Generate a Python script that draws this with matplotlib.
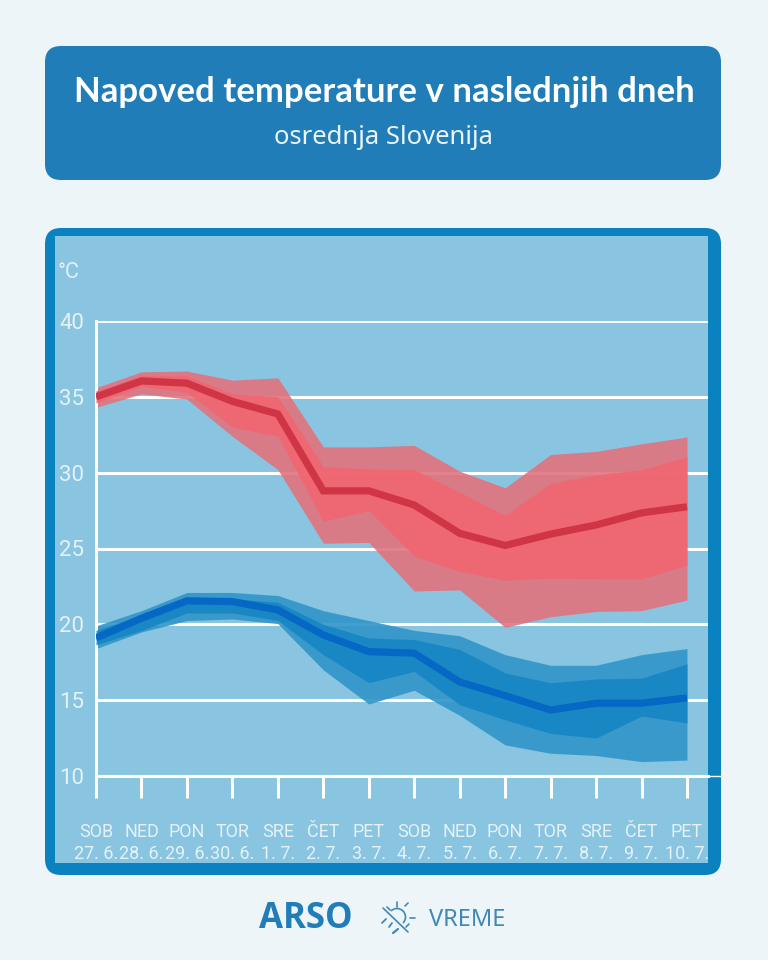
import matplotlib
matplotlib.use("Agg")
import matplotlib.pyplot as plt
from matplotlib.patches import FancyBboxPatch, Rectangle, Arc

# ============================== DATA ==============================
days = ["SOB", "NED", "PON", "TOR", "SRE", "ČET", "PET",
        "SOB", "NED", "PON", "TOR", "SRE", "ČET", "PET"]
dates = ["27. 6.", "28. 6.", "29. 6.", "30. 6.", "1. 7.", "2. 7.", "3. 7.",
         "4. 7.", "5. 7.", "6. 7.", "7. 7.", "8. 7.", "9. 7.", "10. 7."]
y_ticks = [10, 15, 20, 25, 30, 35, 40]

tmax_outer_hi = [35.6, 36.65, 36.7, 36.1, 36.25, 31.7, 31.7, 31.8, 30.1, 29.0, 31.2, 31.4, 31.9, 32.35]
tmax_inner_hi = [35.4, 36.4, 36.4, 35.2, 35.0, 30.4, 30.25, 30.2, 28.7, 27.2, 29.3, 29.85, 30.2, 31.05]
tmax_mid = [35.0, 36.05, 35.9, 34.7, 33.87, 28.8, 28.8, 27.87, 26.0, 25.2, 25.95, 26.55, 27.35, 27.75]
tmax_inner_lo = [34.6, 35.7, 35.3, 33.0, 32.4, 26.8, 27.5, 24.5, 23.5, 22.9, 23.05, 23.0, 23.0, 23.9]
tmax_outer_lo = [34.3, 35.2, 34.85, 32.4, 30.2, 25.35, 25.4, 22.2, 22.27, 19.8, 20.5, 20.85, 20.9, 21.6]

tmin_outer_hi = [19.9, 20.9, 22.1, 22.1, 21.9, 20.9, 20.25, 19.6, 19.25, 18.0, 17.3, 17.3, 18.0, 18.4]
tmin_inner_hi = [19.6, 20.6, 21.7, 21.7, 21.45, 20.0, 19.1, 19.0, 18.35, 16.8, 16.15, 16.4, 16.45, 17.4]
tmin_mid = [19.1, 20.4, 21.55, 21.5, 20.95, 19.3, 18.2, 18.1, 16.2, 15.3, 14.35, 14.8, 14.8, 15.15]
tmin_inner_lo = [18.65, 19.6, 20.75, 20.75, 20.25, 18.0, 16.15, 16.9, 14.7, 13.7, 12.8, 12.5, 13.95, 13.5]
tmin_outer_lo = [18.4, 19.5, 20.25, 20.35, 20.05, 17.0, 14.75, 15.65, 14.0, 12.05, 11.5, 11.35, 10.95, 11.05]

# ============================== COLOURS ==============================
PAGE = "#EEF5F9"
HEADER = "#217DB8"
FRAME = "#0A82BF"
PANEL = "#89C4E0"
LABEL = "#E4F2F8"
W, H = 768, 960

plt.rcParams["font.family"] = ["Roboto", "DejaVu Sans"]

fig = plt.figure(figsize=(W / 100, H / 100), dpi=100, facecolor=PAGE)

# page furniture is laid out in pixels on a full-figure axes
bg = fig.add_axes([0, 0, 1, 1])
bg.set_xlim(0, W)
bg.set_ylim(H, 0)
bg.axis("off")


def rounded(x0, y0, x1, y1, color, r=16):
    bg.add_patch(FancyBboxPatch((x0 + r, y0 + r), x1 - x0 - 2 * r, y1 - y0 - 2 * r,
                                boxstyle=f"round,pad={r},rounding_size={r}",
                                fc=color, ec="none"))


rounded(45, 46, 721, 180, HEADER)
bg.text(384, 92, "Napoved temperature v naslednjih dneh", color="white", fontsize=25,
        family="Lato", fontweight="bold", ha="center", va="center")
bg.text(384, 137, "osrednja Slovenija", color="#EAF4FA", fontsize=18.5,
        family="Noto Sans", ha="center", va="center")

rounded(45, 228, 721, 875, FRAME)
bg.add_patch(Rectangle((55, 236), 653, 627, fc=PANEL, ec="none"))
bg.text(69, 272, "°C", color=LABEL, fontsize=15.5, ha="center", va="center")
bg.plot([708, 721], [776, 776], color="white", lw=1, solid_capstyle="butt")

# footer with the agency name and the weather icon
bg.text(306, 919, "ARSO", color=HEADER, fontsize=25, family="Open Sans", fontweight="bold",
        ha="center", va="center")
bg.text(467, 920, "VREME", color="#3F88B8", fontsize=17, family="Noto Sans", ha="center", va="center")
icon = "#3F88B8"
bg.add_patch(Arc((397, 917), 17, 17, angle=0, theta1=-135, theta2=45, color=icon, lw=1.2))
for x0, y0, x1, y1, lw in [(383, 908, 408, 932, 1.2), (397, 902, 397, 907, 1.2),
                           (405, 906, 408, 903, 1.2), (410, 918, 415, 918, 1.2),
                           (387, 907, 390, 910, 1.2), (406, 927, 409, 924, 1.2),
                           (382, 923, 386, 919, 1.3), (389, 927, 392, 923, 1.3),
                           (393, 933, 398, 929, 1.6)]:
    bg.plot([x0, x1], [y0, y1], color=icon, lw=lw, solid_capstyle="round")

# ============================== CHART ==============================
# axes spans 96..708 px wide and 321..776 px high, 14 days 45.46 px apart
ax = fig.add_axes([96 / W, 1 - 776 / H, (708 - 96) / W, (776 - 321) / H])
ax.patch.set_alpha(0)
xs = list(range(len(days)))
ax.set_xlim(0, 612 / 45.46)
ax.set_ylim(10, 40)

ax.fill_between(xs, tmax_outer_lo, tmax_outer_hi, color="#E2737E", alpha=0.9, lw=0, zorder=2)
ax.fill_between(xs, tmax_inner_lo, tmax_inner_hi, color="#F16671", alpha=0.9, lw=0, zorder=3)
ax.plot(xs, tmax_mid, color="#CF3545", lw=5.2, solid_joinstyle="miter", solid_capstyle="butt", zorder=4)

ax.fill_between(xs, tmin_outer_lo, tmin_outer_hi, color="#3195C9", alpha=0.9, lw=0, zorder=2)
ax.fill_between(xs, tmin_inner_lo, tmin_inner_hi, color="#1786C5", alpha=0.9, lw=0, zorder=3)
ax.plot(xs, tmin_mid, color="#0568C4", lw=5.2, solid_joinstyle="miter", solid_capstyle="butt", zorder=4)

ax.set_yticks(y_ticks)
ax.set_xticks(xs)
ax.set_xticklabels([f"{d}\n{t}" for d, t in zip(days, dates)], linespacing=1.3)
ax.grid(axis="y", color="white", lw=2.2, zorder=1)
ax.set_axisbelow(True)
ax.tick_params(axis="y", length=0, pad=8.5, labelcolor=LABEL, labelsize=16)
ax.tick_params(axis="x", length=16, width=2.2, color="white", pad=18, labelcolor=LABEL, labelsize=13)
for side in ["top", "right"]:
    ax.spines[side].set_visible(False)
for side in ["left", "bottom"]:
    ax.spines[side].set_color("white")
    ax.spines[side].set_linewidth(2.2)

fig.savefig("out.png", dpi=100, facecolor=PAGE)
